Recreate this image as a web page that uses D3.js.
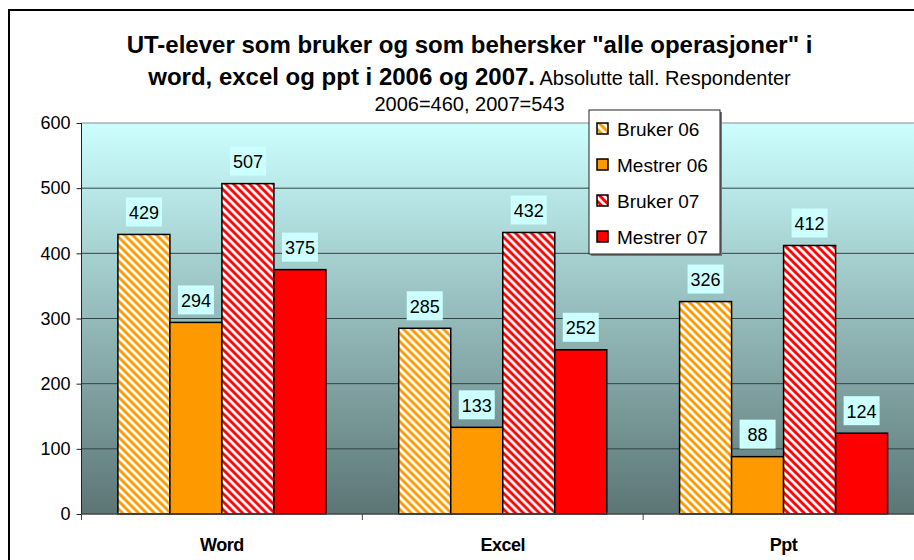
<!DOCTYPE html>
<html><head><meta charset="utf-8">
<script src="https://cdn.jsdelivr.net/npm/d3@7"></script>
<style>body{margin:0;background:#fff;}svg{display:block;font-family:Arial,"Liberation Sans",sans-serif;}</style>
</head><body><svg id="c" width="914" height="560"></svg>
<script>
const categories = ["Word", "Excel", "Ppt"];
const seriesNames = ["Bruker 06", "Mestrer 06", "Bruker 07", "Mestrer 07"];
const bruker06 = [429, 285, 326];
const mestrer06 = [294, 133, 88];
const bruker07 = [507, 432, 412];
const mestrer07 = [375, 252, 124];
const yTicks = [0, 100, 200, 300, 400, 500, 600];
const titleLine1 = "UT-elever som bruker og som behersker \"alle operasjoner\" i";
const titleLine2Bold = "word, excel og ppt i 2006 og 2007.";
const titleLine2Normal = " Absolutte tall. Respondenter";
const titleLine3 = "2006=460, 2007=543";

const seriesValues = [bruker06, mestrer06, bruker07, mestrer07];
const seriesColor = ["#ff9900", "#ff9900", "#ff0000", "#ff0000"];
const seriesHatched = [true, false, true, false];

const svg = d3.select("#c");
const defs = svg.append("defs");
const grad = defs.append("linearGradient").attr("id","bg").attr("x1",0).attr("y1",0).attr("x2",0).attr("y2",1);
grad.append("stop").attr("offset","0%").attr("stop-color","#ccffff");
grad.append("stop").attr("offset","100%").attr("stop-color","#5c7575");
["orange","red"].forEach((n,i)=>{
  const col = i===0 ? "#ff9900" : "#ff0000";
  const p = defs.append("pattern").attr("id","h-"+n).attr("patternUnits","userSpaceOnUse")
    .attr("width",8).attr("height",8);
  p.append("rect").attr("width",8).attr("height",8).attr("fill","#fff");
  p.append("path").attr("d","M-2,-2L10,10M-2,6L2,10M6,-2L10,2").attr("stroke",col).attr("stroke-width",2.9);
});

// outer border
svg.append("rect").attr("x",9).attr("y",10).attr("width",940).attr("height",580)
  .attr("fill","#fff").attr("stroke","#000").attr("stroke-width",2);

const plotL = 81.5, plotR = 924, plotT = 123, plotB = 514;
const x0 = d3.scaleBand().domain(categories).range([plotL, plotR]);
const x1 = d3.scaleBand().domain(seriesNames).range([0, x0.bandwidth()]).paddingOuter(0.7).paddingInner(0);
const y = d3.scaleLinear().domain([0, 600]).range([plotB, plotT]);

svg.append("rect").attr("x",plotL).attr("y",plotT).attr("width",plotR-plotL).attr("height",plotB-plotT)
  .attr("fill","url(#bg)");

// grid
svg.append("g").selectAll("line").data(yTicks.filter(d=>d>0)).join("line")
  .attr("x1",plotL).attr("x2",plotR).attr("y1",d=>y(d)).attr("y2",d=>y(d))
  .attr("stroke",d=>d===600?"#888":"#334444").attr("stroke-width",1);

// bars
const groups = svg.append("g").selectAll("g").data(categories).join("g")
  .attr("transform",c=>`translate(${x0(c)},0)`);
seriesNames.forEach((s,si)=>{
  groups.append("rect")
    .attr("x",x1(s)).attr("width",x1.bandwidth())
    .attr("y",(c,ci)=>y(seriesValues[si][ci]))
    .attr("height",(c,ci)=>plotB - y(seriesValues[si][ci]))
    .attr("fill", seriesHatched[si] ? (si===0?"url(#h-orange)":"url(#h-red)") : seriesColor[si])
    .attr("stroke","#000").attr("stroke-width",1.5);
});

// value labels
seriesNames.forEach((s,si)=>{
  const lg = groups.append("g").attr("transform",(c,ci)=>`translate(${x1(s)+x1.bandwidth()/2},${y(seriesValues[si][ci])-22})`);
  lg.append("rect").attr("x",-18).attr("y",-15).attr("width",36).attr("height",29).attr("fill","#ccffff");
  lg.append("text").attr("text-anchor","middle").attr("dy","0.36em").attr("font-size",18)
    .text((c,ci)=>seriesValues[si][ci]);
});

// axes
const yAxis = svg.append("g").attr("transform",`translate(${plotL},0)`)
  .call(d3.axisLeft(y).tickValues(yTicks).tickSize(5).tickPadding(6));
yAxis.select(".domain").attr("stroke","#222").attr("d",`M0,${plotT}V${plotB}`);
yAxis.selectAll(".tick line").attr("stroke","#222");
yAxis.selectAll("text").attr("font-size",18).attr("fill","#000").attr("font-family","Arial, Liberation Sans, sans-serif");

const xb = svg.append("g").attr("transform",`translate(0,${plotB})`);
xb.append("line").attr("x1",plotL).attr("x2",plotR).attr("stroke","#444").attr("stroke-width",1.5);
xb.selectAll("line.t").data([...categories.map(c=>x0(c))]).join("line").attr("class","t")
  .attr("x1",d=>d).attr("x2",d=>d).attr("y1",0).attr("y2",6).attr("stroke","#444");
xb.selectAll("text").data(categories).join("text")
  .attr("x",c=>x0(c)+x0.bandwidth()/2).attr("y",37).attr("text-anchor","middle")
  .attr("font-size",18).attr("font-weight","bold").attr("letter-spacing","-0.5").text(c=>c);

// title
const cx = 469.5;
svg.append("text").attr("x",cx).attr("y",53).attr("text-anchor","middle").attr("font-size",24)
  .attr("font-weight","bold").text(titleLine1);
const t2 = svg.append("text").attr("x",cx).attr("y",85).attr("text-anchor","middle");
t2.append("tspan").attr("font-size",24).attr("font-weight","bold").text(titleLine2Bold);
t2.append("tspan").attr("font-size",20).text(titleLine2Normal);
svg.append("text").attr("x",cx).attr("y",111).attr("text-anchor","middle").attr("font-size",20).text(titleLine3);

// legend
const lgX = 589, lgY = 110;
svg.append("rect").attr("x",lgX+2).attr("y",lgY+2).attr("width",131).attr("height",144).attr("fill","#777");
svg.append("rect").attr("x",lgX).attr("y",lgY).attr("width",131).attr("height",144)
  .attr("fill","#fff").attr("stroke","#222").attr("stroke-width",1);
const li = svg.append("g").selectAll("g").data(seriesNames).join("g")
  .attr("transform",(d,i)=>`translate(${lgX},${lgY+19+i*36})`);
li.append("rect").attr("x",8).attr("y",-6).attr("width",11).attr("height",11)
  .attr("fill",(d,i)=>seriesHatched[i] ? (i===0?"url(#h-orange)":"url(#h-red)") : seriesColor[i])
  .attr("stroke","#000").attr("stroke-width",1.5);
li.append("text").attr("x",28).attr("dy","0.36em").attr("font-size",19).text(d=>d);
</script></body></html>
